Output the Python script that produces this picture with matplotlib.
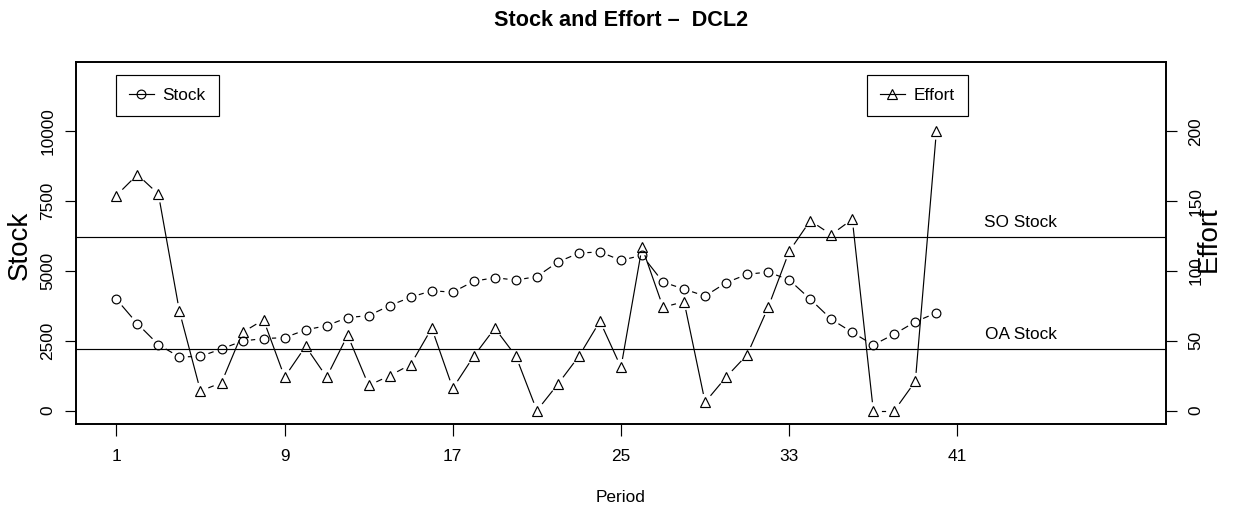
import numpy as np
import matplotlib
matplotlib.use('Agg')
import matplotlib.pyplot as plt
from matplotlib.lines import Line2D

plt.rcParams['font.family'] = ['Liberation Sans', 'DejaVu Sans']

# data
period = np.arange(1, 41)
stock = [3990, 3110, 2360, 1920, 1940, 2210, 2490, 2580, 2610, 2890,
         3040, 3330, 3400, 3760, 4060, 4290, 4240, 4630, 4760, 4670,
         4800, 5320, 5640, 5680, 5380, 5560, 4600, 4350, 4100, 4580,
         4880, 4960, 4680, 3990, 3270, 2800, 2350, 2740, 3180, 3500]
effort = [154, 169, 155, 71, 14, 20, 56, 65, 24, 46,
          24, 54, 18, 25, 33, 59, 16, 39, 59, 39,
          0, 19, 39, 64, 31, 117, 74, 78, 6, 24,
          40, 74, 114, 136, 126, 137, 0, 0, 21, 200]
so_stock = 6200
oa_stock = 2190
xticks = [1, 9, 17, 25, 33, 41]
stock_ticks = [0, 2500, 5000, 7500, 10000]
effort_ticks = [0, 50, 100, 150, 200]

W, H = 1240, 511
fig = plt.figure(figsize=(W / 100, H / 100), dpi=100)
ax = fig.add_axes([76 / W, 1 - 424 / H, (1166 - 76) / W, (424 - 62) / H])
ax.set_xlim(-0.92, 50.92)
ax.set_ylim(-480, 12480)
ax2 = ax.twinx()
ax2.set_ylim(-480 / 50, 12480 / 50)


def gapped(a, xs, ys, gap=9, **kw):
    # R type="b": lines stop short of each point
    pts = a.transData.transform(np.column_stack([xs, ys]))
    inv = a.transData.inverted()
    for p, q in zip(pts[:-1], pts[1:]):
        d = q - p
        L = np.hypot(d[0], d[1])
        if L <= 2 * gap:
            continue
        u = d / L
        seg = inv.transform(np.array([p + u * gap, q - u * gap]))
        a.plot(seg[:, 0], seg[:, 1], color='black', lw=0.85, **kw)


ax.axhline(so_stock, color='black', lw=0.85)
ax.axhline(oa_stock, color='black', lw=0.85)
ax.annotate('SO Stock', (44, so_stock), xytext=(0, 11), textcoords='offset points',
            ha='center', va='center', fontsize=12.4)
ax.annotate('OA Stock', (44, oa_stock), xytext=(0, 11), textcoords='offset points',
            ha='center', va='center', fontsize=12.4)

ax.plot(period, stock, 'o', mfc='none', mec='black', ms=6.3, mew=0.85)
gapped(ax, period, stock)
ax2.plot(period, effort, '^', mfc='none', mec='black', ms=7.5, mew=0.85)
gapped(ax2, period, effort)

ax.set_xticks(xticks)
ax.set_yticks(stock_ticks)
ax2.set_yticks(effort_ticks)
ax.tick_params(axis='x', length=8.5, width=0.85, pad=9.5, labelsize=12.4)
ax.tick_params(axis='y', length=8, width=0.85, pad=7, labelsize=12.4, labelrotation=90)
ax2.tick_params(axis='y', length=8, width=0.85, pad=8, labelsize=12.4, labelrotation=90)
for lab in ax.get_yticklabels() + ax2.get_yticklabels():
    lab.set_va('center')
for a in (ax, ax2):
    for s in a.spines.values():
        s.set_linewidth(1.2)

ax.set_xlabel('Period', fontsize=12.4, labelpad=19)
fig.text(20 / W, 1 - 245 / H, 'Stock', rotation=90, ha='center', va='center', fontsize=20)
fig.text(1209 / W, 1 - 239 / H, 'Effort', rotation=90, ha='center', va='center', fontsize=20)
fig.text(621 / W, 1 - 21 / H, 'Stock and Effort –  DCL2', ha='center', va='center',
         fontsize=15.6, fontweight='bold')

h1 = Line2D([], [], color='black', lw=0.85, marker='o', mfc='none', mec='black', ms=6.3, mew=0.85)
h2 = Line2D([], [], color='black', lw=0.85, marker='^', mfc='none', mec='black', ms=7.5, mew=0.85)
leg_kw = dict(loc='upper left', bbox_transform=fig.transFigure, borderaxespad=0,
              fontsize=12.4, fancybox=False, framealpha=1, edgecolor='black',
              borderpad=0.75, handlelength=1.45, handletextpad=0.5)
leg1 = ax2.legend([h1], ['Stock'], bbox_to_anchor=(116 / W, 1 - 75 / H), **leg_kw)
leg1.get_frame().set_linewidth(0.85)
ax2.add_artist(leg1)
leg2 = ax2.legend([h2], ['Effort'], bbox_to_anchor=(867 / W, 1 - 75 / H), **leg_kw)
leg2.get_frame().set_linewidth(0.85)

fig.savefig('out.png', dpi=100)
